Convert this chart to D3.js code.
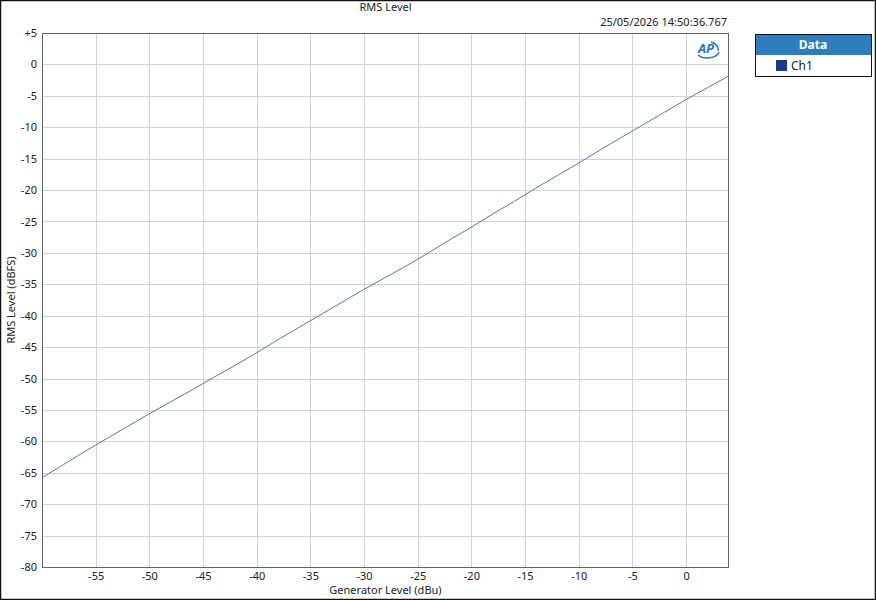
<!DOCTYPE html>
<html>
<head>
<meta charset="utf-8">
<script src="https://cdn.jsdelivr.net/npm/d3@7"></script>
<style>
  body { margin: 0; background: #fff; }
  svg text { font-family: "Segoe UI", "Noto Sans", "Open Sans", sans-serif; }
</style>
</head>
<body>
<div id="chart"></div>
<script>
const genLevel = [-60, -58, -56, -54, -52, -50, -48, -46, -44, -42, -40, -38, -36, -34, -32, -30,
  -28, -26, -24, -22, -20, -18, -16, -14, -12, -10, -8, -6, -4, -2, 0, 2, 4]
const rmsLevel = [-65.8, -63.7, -61.6, -59.6, -57.6, -55.6, -53.7, -51.8, -49.8, -47.9, -45.9, -43.8,
  -41.8, -39.8, -37.8, -35.8, -33.9, -32.0, -30.0, -27.9, -25.9, -23.8, -21.8, -19.7, -17.7, -15.7,
  -13.6, -11.6, -9.6, -7.6, -5.6, -3.7, -1.8]
const xTicks = [-55, -50, -45, -40, -35, -30, -25, -20, -15, -10, -5, 0]
const yTicks = [5, 0, -5, -10, -15, -20, -25, -30, -35, -40, -45, -50, -55, -60, -65, -70, -75, -80]
const seriesNames = ['Ch1']

const W = 876, H = 600
const margin = {top: 33, right: 147, bottom: 33, left: 42},
  width = W - margin.left - margin.right,
  height = H - margin.top - margin.bottom

const svg = d3.select('#chart').append('svg')
  .attr('width', W)
  .attr('height', H)

// outer frame
svg.append('rect')
  .attr('x', 0.5).attr('y', 0.5)
  .attr('width', W - 1).attr('height', H - 1)
  .attr('fill', '#fff')
  .attr('stroke', '#111')
  .attr('stroke-width', 1.5)

const g = svg.append('g')
  .attr('transform', `translate(${margin.left},${margin.top})`)

const x = d3.scaleLinear().domain([-60, 4]).range([0, width])
const y = d3.scaleLinear().domain([-80, 5]).range([height, 0])

// grid
g.append('g')
  .selectAll('line')
  .data(xTicks)
  .enter().append('line')
    .attr('x1', d => Math.round(x(d)) + 0.5).attr('x2', d => Math.round(x(d)) + 0.5)
    .attr('y1', 0).attr('y2', height)
    .attr('stroke', '#d2d2d2')
g.append('g')
  .selectAll('line')
  .data(yTicks)
  .enter().append('line')
    .attr('y1', d => Math.round(y(d)) + 0.5).attr('y2', d => Math.round(y(d)) + 0.5)
    .attr('x1', 0).attr('x2', width)
    .attr('stroke', '#d2d2d2')

// axes (labels only, no tick marks)
const xAxis = g.append('g')
  .attr('transform', `translate(0,${height})`)
  .call(d3.axisBottom(x).tickValues(xTicks).tickSize(0).tickPadding(5)
    .tickFormat(d => String(d)))
xAxis.select('.domain').remove()
xAxis.selectAll('text').attr('font-size', 11).attr('fill', '#222')
  .attr('font-family', '"Segoe UI", "Noto Sans", sans-serif')

const yAxis = g.append('g')
  .call(d3.axisLeft(y).tickValues(yTicks).tickSize(0).tickPadding(5)
    .tickFormat(d => d > 0 ? '+' + d : String(d)))
yAxis.select('.domain').remove()
yAxis.selectAll('text').attr('font-size', 11).attr('fill', '#222')
  .attr('font-family', '"Segoe UI", "Noto Sans", sans-serif')

// data line
const data = genLevel.map((v, i) => ({gen: v, rms: rmsLevel[i]}))
g.append('path')
  .datum(data)
  .attr('fill', 'none')
  .attr('stroke', '#60709e')
  .attr('stroke-width', 1)
  .attr('d', d3.line().x(d => x(d.gen)).y(d => y(d.rms)))

// plot border
g.append('rect')
  .attr('x', 0.5).attr('y', 0.5)
  .attr('width', width - 1).attr('height', height)
  .attr('fill', 'none')
  .attr('stroke', '#666')

// AP logo
const logo = g.append('g').attr('transform', `translate(${width - 22},16)`)
logo.append('path')
  .attr('d', 'M-9,6 A12,8 0 0 0 12,3')
  .attr('fill', 'none').attr('stroke', '#2a78c2').attr('stroke-width', 1.6)
logo.append('path')
  .attr('d', 'M4,-7 A12,8 0 0 1 11,2')
  .attr('fill', 'none').attr('stroke', '#2a78c2').attr('stroke-width', 1.6)
logo.append('text')
  .attr('x', -1).attr('y', 4)
  .attr('text-anchor', 'middle')
  .attr('font-size', 13).attr('font-weight', 'bold').attr('font-style', 'italic')
  .attr('fill', '#2a78c2')
  .text('AP')

// titles
svg.append('text')
  .attr('x', margin.left + width / 2).attr('y', 11)
  .attr('text-anchor', 'middle').attr('font-size', 11).attr('fill', '#222')
  .text('RMS Level')
svg.append('text')
  .attr('x', margin.left + width - 2).attr('y', 26)
  .attr('text-anchor', 'end').attr('font-size', 11).attr('fill', '#222')
  .text('25/05/2026 14:50:36.767')
svg.append('text')
  .attr('x', margin.left + width / 2).attr('y', 594)
  .attr('text-anchor', 'middle').attr('font-size', 11).attr('fill', '#222')
  .text('Generator Level (dBu)')
svg.append('text')
  .attr('transform', `translate(15,${margin.top + height / 2}) rotate(-90)`)
  .attr('text-anchor', 'middle').attr('font-size', 11).attr('fill', '#222')
  .text('RMS Level (dBFS)')

// legend
const leg = svg.append('g').attr('transform', 'translate(755,34)')
leg.append('rect')
  .attr('x', 0.5).attr('y', 0.5).attr('width', 116).attr('height', 42)
  .attr('fill', '#fff').attr('stroke', '#111')
leg.append('rect')
  .attr('x', 1).attr('y', 1).attr('width', 115).attr('height', 20)
  .attr('fill', '#2e7dbd')
leg.append('text')
  .attr('x', 58).attr('y', 15)
  .attr('text-anchor', 'middle').attr('font-size', 12).attr('font-weight', 'bold')
  .attr('fill', '#fff')
  .text('Data')
seriesNames.forEach((name, i) => {
  leg.append('rect')
    .attr('x', 21).attr('y', 26 + i * 18).attr('width', 11).attr('height', 11)
    .attr('fill', '#1b3a86')
  leg.append('text')
    .attr('x', 36).attr('y', 36 + i * 18)
    .attr('font-size', 12).attr('fill', '#222')
    .text(name)
})
</script>
</body>
</html>
